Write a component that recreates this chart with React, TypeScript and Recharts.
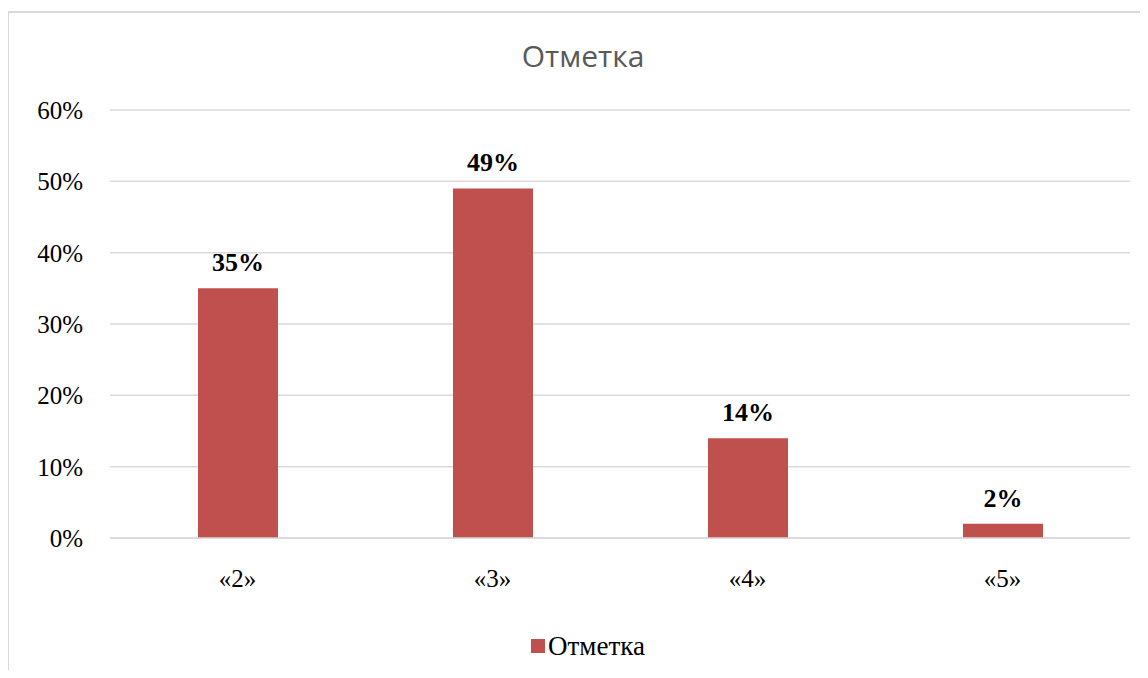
import * as React from "react";
import {
  Bar,
  BarChart,
  CartesianGrid,
  LabelList,
  Legend,
  XAxis,
  YAxis,
} from "recharts";

const grades = ["«2»", "«3»", "«4»", "«5»"];
const shares = [0.35, 0.49, 0.14, 0.02];
const yTicks = [0, 0.1, 0.2, 0.3, 0.4, 0.5, 0.6];
const seriesName = "Отметка";
const chartTitle = "Отметка";

const data = grades.map((grade, i) => ({ grade, value: shares[i] }));

const SERIF = '"Liberation Serif", "Times New Roman", serif';
const BAR = "#C0504D";
const GRID = "#d9d9d9";

const pct = (v: number) => `${Math.round(v * 100)}%`;

function LegendBox({ payload }: { payload?: { value: string; color?: string }[] }) {
  if (!payload) return null;
  return (
    <div style={{ display: "flex", justifyContent: "center", alignItems: "center" }}>
      {payload.map((p) => (
        <div key={p.value} style={{ display: "flex", alignItems: "center" }}>
          <span
            style={{ display: "inline-block", width: 14, height: 14, background: BAR, marginRight: 3 }}
          />
          <span style={{ fontFamily: SERIF, fontSize: 27, color: "#000", lineHeight: "30px" }}>
            {p.value}
          </span>
        </div>
      ))}
    </div>
  );
}

export default function App() {
  return (
    <div
      style={{
        position: "relative",
        width: 1148,
        height: 678,
        margin: -8,
        overflow: "hidden",
        background: "#fff",
      }}
    >
      {/* tail of the text line above the chart, cut off by the page edge */}
      <div
        style={{
          position: "absolute",
          left: 1077,
          top: -23,
          fontFamily: SERIF,
          fontSize: 25,
          lineHeight: 1,
          color: "#000",
        }}
      >
        р
      </div>
      {/* chart frame */}
      <div
        style={{
          position: "absolute",
          left: 7,
          top: 11,
          width: 1200,
          height: 720,
          borderTop: `2px solid ${GRID}`,
          borderLeft: `2px solid ${GRID}`,
          boxSizing: "border-box",
        }}
      />
      <div style={{ position: "absolute", left: 0, top: 0 }}>
        <BarChart
          width={1148}
          height={678}
          data={data}
          margin={{ top: 110, right: 18, bottom: 0, left: 0 }}
        >
          <text
            x={583}
            y={67}
            textAnchor="middle"
            fill="#595959"
            style={{ fontFamily: '"Open Sans", sans-serif', fontSize: 30 }}
          >
            {chartTitle}
          </text>
          <CartesianGrid stroke={GRID} strokeWidth={1.5} vertical={false} />
          <XAxis
            dataKey="grade"
            height={140}
            tickLine={false}
            tickSize={0}
            tickMargin={31}
            axisLine={{ stroke: GRID, strokeWidth: 1.5 }}
            tick={{ fill: "#000", fontSize: 25, fontFamily: SERIF }}
          />
          <YAxis
            width={110}
            domain={[0, 0.6]}
            ticks={yTicks}
            tickFormatter={pct}
            tickLine={false}
            tickSize={0}
            tickMargin={27}
            axisLine={false}
            tick={{ fill: "#000", fontSize: 25, fontFamily: SERIF }}
          />
          <Legend
            layout="horizontal"
            verticalAlign="middle"
            align="center"
            content={<LegendBox />}
            wrapperStyle={{ top: 631, left: 14, width: 1148 }}
          />
          <Bar dataKey="value" name={seriesName} fill={BAR} barSize={80} isAnimationActive={false}>
            <LabelList
              dataKey="value"
              position="top"
              offset={17}
              formatter={(v: number) => pct(v)}
              style={{ fill: "#000", fontSize: 26, fontWeight: "bold", fontFamily: SERIF }}
            />
          </Bar>
        </BarChart>
      </div>
    </div>
  );
}
